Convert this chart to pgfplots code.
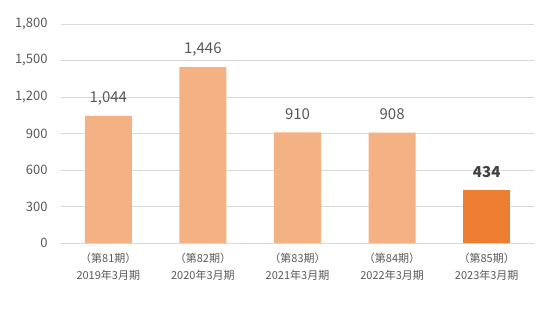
\documentclass[border=0pt]{standalone}
\usepackage{pgfplots}
\pgfplotsset{compat=1.18}
\usepackage{fontspec}
\setmainfont{Noto Sans CJK JP}
\definecolor{lightbar}{HTML}{F4B183}
\definecolor{darkbar}{HTML}{ED7D31}
\definecolor{gridc}{HTML}{D9D9D9}
\definecolor{textc}{HTML}{595959}
\begin{document}
\begin{tikzpicture}
\begin{axis}[
  scale only axis, width=473bp, height=219bp,
  xmin=-0.5, xmax=4.5, ymin=0, ymax=1800,
  ytick={0,300,600,900,1200,1500,1800},
  xtick={0,1,2,3,4},
  xticklabels={{（第81期）\\2019年3月期},{（第82期）\\2020年3月期},{（第83期）\\2021年3月期},{（第84期）\\2022年3月期},{（第85期）\\2023年3月期}},
  xticklabel style={align=center, font=\fontsize{11bp}{17bp}\selectfont, text=textc, yshift=-7bp},
  yticklabel style={font=\fontsize{13bp}{15bp}\selectfont, text=textc, xshift=-10bp},
  /pgf/number format/.cd, 1000 sep={,}, assume math mode=true, /pgfplots/.cd,
  ymajorgrids, grid style={gridc, line width=0.8bp},
  axis line style={draw=none},
  major tick length=0,
  ybar, bar width=47bp, bar shift=0pt,
  nodes near coords,
  every node near coord/.append style={font=\fontsize{15bp}{17bp}\selectfont, text=textc, anchor=center, yshift=18bp},
  clip=false,
]
\addplot[fill=lightbar, draw=none] coordinates {(0,1044) (1,1446) (2,910) (3,908)};
\addplot[fill=darkbar, draw=none, every node near coord/.append style={font=\fontsize{15bp}{17bp}\bfseries\selectfont, text=black!75}] coordinates {(4,434)};
\end{axis}
\pgfresetboundingbox
\useasboundingbox (-61bp,-66bp) rectangle (490bp,243bp);
\end{tikzpicture}
\end{document}
